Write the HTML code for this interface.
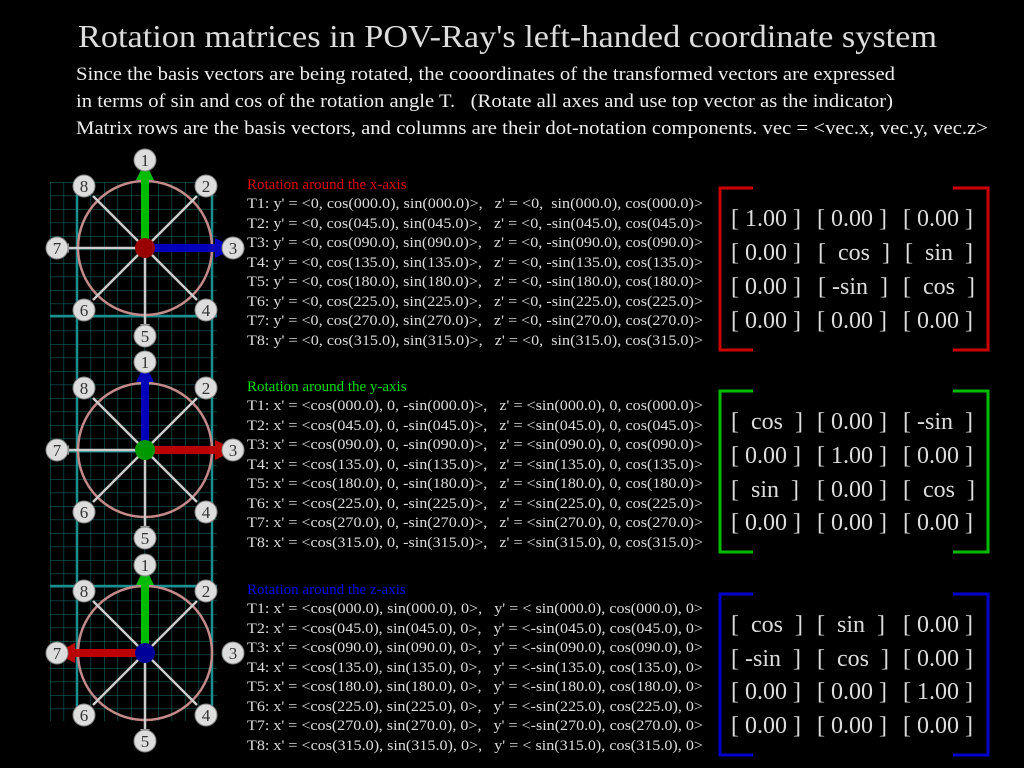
<!DOCTYPE html>
<html><head><meta charset="utf-8"><style>
html,body{margin:0;padding:0;background:#000;}
svg{display:block;font-family:"Liberation Serif",serif;}
svg text{white-space:pre;}
</style></head><body>
<svg width="1024" height="768" viewBox="0 0 1024 768" xmlns="http://www.w3.org/2000/svg">
<defs>
<pattern id="g" x="50" y="182" width="13.5" height="13.5" patternUnits="userSpaceOnUse">
<path d="M0 0H13.5M0 0V13.5" stroke="#0d5c5c" stroke-width="1.3" fill="none"/>
</pattern>
<g id="wheel">
<circle cx="0" cy="0" r="67" fill="none" stroke="#c48a8a" stroke-width="2.5"/>
<g stroke="#ccc" stroke-width="2.5">
<line x1="0" y1="0" x2="0" y2="76"/><line x1="0" y1="0" x2="-52" y2="52"/><line x1="0" y1="0" x2="-52" y2="-52"/>
<line x1="0" y1="0" x2="52" y2="52"/><line x1="0" y1="0" x2="52" y2="-52"/><line x1="0" y1="0" x2="-76" y2="0"/>
</g>
<g fill="#999">
<path d="M-5 76L5 76L0 83z"/><path d="M-76 -5L-76 5L-83 0z"/>
<path d="M-57 -52L-52 -57L-59 -59z"/><path d="M57 -52L52 -57L59 -59z"/>
<path d="M-57 52L-52 57L-59 59z"/><path d="M57 52L52 57L59 59z"/>
</g>
</g>
<g id="labels">
<g fill="#ddd" stroke="#888" stroke-width="1">
<circle cx="0" cy="-88" r="11"/><circle cx="61" cy="-62" r="11"/><circle cx="88" cy="0" r="11"/><circle cx="61" cy="62" r="11"/>
<circle cx="0" cy="88" r="11"/><circle cx="-61" cy="62" r="11"/><circle cx="-88" cy="0" r="11"/><circle cx="-61" cy="-62" r="11"/>
</g>
<g fill="#333" font-size="17" text-anchor="middle">
<text x="0" y="-82">1</text><text x="61" y="-56">2</text><text x="88" y="6">3</text><text x="61" y="68">4</text>
<text x="0" y="94">5</text><text x="-61" y="68">6</text><text x="-88" y="6">7</text><text x="-61" y="-56">8</text>
</g>
</g>
</defs>
<rect width="1024" height="768" fill="#000"/>
<text x="78" y="47" fill="#ddd" font-size="32" textLength="859" lengthAdjust="spacingAndGlyphs">Rotation matrices in POV-Ray's left-handed coordinate system</text>
<g fill="#eee" font-size="19">
<text x="76" y="80" textLength="819" lengthAdjust="spacingAndGlyphs">Since the basis vectors are being rotated, the cooordinates of the transformed vectors are expressed</text>
<text x="76" y="107" textLength="817" lengthAdjust="spacingAndGlyphs">in terms of sin and cos of the rotation angle T.   (Rotate all axes and use top vector as the indicator)</text>
<text x="76" y="134" textLength="912" lengthAdjust="spacingAndGlyphs">Matrix rows are the basis vectors, and columns are their dot-notation components. vec = &lt;vec.x, vec.y, vec.z&gt;</text>
</g>
<rect x="50" y="182" width="167" height="539" fill="url(#g)"/>
<g stroke="#1a8f8f" stroke-width="2.5">
<line x1="77" y1="182" x2="77" y2="721"/><line x1="212" y1="182" x2="212" y2="721"/>
<line x1="50" y1="316" x2="217" y2="316"/><line x1="50" y1="451" x2="217" y2="451"/><line x1="50" y1="586" x2="217" y2="586"/>
</g>

<use href="#wheel" x="145" y="248"/>
<rect x="141" y="178" width="8" height="70" fill="#0b0"/><path d="M136 180L154 180L145 162z" fill="#0b0"/>
<rect x="145" y="244" width="72" height="8" fill="#00b"/><path d="M215 238L215 258L235 248z" fill="#00b"/>
<circle cx="145" cy="248" r="10" fill="#900"/>
<use href="#labels" x="145" y="248"/>

<use href="#wheel" x="145" y="450"/>
<rect x="141" y="380" width="8" height="70" fill="#00b"/><path d="M136 382L154 382L145 364z" fill="#00b"/>
<rect x="145" y="446" width="72" height="8" fill="#b00"/><path d="M215 440L215 460L235 450z" fill="#b00"/>
<circle cx="145" cy="450" r="10" fill="#090"/>
<use href="#labels" x="145" y="450"/>

<use href="#wheel" x="145" y="653"/>
<rect x="141" y="583" width="8" height="70" fill="#0b0"/><path d="M136 585L154 585L145 567z" fill="#0b0"/>
<rect x="73" y="649" width="72" height="8" fill="#b00"/><path d="M75 643L75 663L55 653z" fill="#b00"/>
<circle cx="145" cy="653" r="10" fill="#009"/>
<use href="#labels" x="145" y="653"/>

<g font-size="14.5" fill="#ddd">
<text x="247" y="189" fill="#d00" font-size="15">Rotation around the x-axis</text>
<text x="247" y="208" textLength="456" lengthAdjust="spacingAndGlyphs">T1: y' = &lt;0, cos(000.0), sin(000.0)&gt;,   z' = &lt;0,  sin(000.0), cos(000.0)&gt;</text>
<text x="247" y="228" textLength="456" lengthAdjust="spacingAndGlyphs">T2: y' = &lt;0, cos(045.0), sin(045.0)&gt;,   z' = &lt;0, -sin(045.0), cos(045.0)&gt;</text>
<text x="247" y="247" textLength="456" lengthAdjust="spacingAndGlyphs">T3: y' = &lt;0, cos(090.0), sin(090.0)&gt;,   z' = &lt;0, -sin(090.0), cos(090.0)&gt;</text>
<text x="247" y="267" textLength="456" lengthAdjust="spacingAndGlyphs">T4: y' = &lt;0, cos(135.0), sin(135.0)&gt;,   z' = &lt;0, -sin(135.0), cos(135.0)&gt;</text>
<text x="247" y="286" textLength="456" lengthAdjust="spacingAndGlyphs">T5: y' = &lt;0, cos(180.0), sin(180.0)&gt;,   z' = &lt;0, -sin(180.0), cos(180.0)&gt;</text>
<text x="247" y="306" textLength="456" lengthAdjust="spacingAndGlyphs">T6: y' = &lt;0, cos(225.0), sin(225.0)&gt;,   z' = &lt;0, -sin(225.0), cos(225.0)&gt;</text>
<text x="247" y="325" textLength="456" lengthAdjust="spacingAndGlyphs">T7: y' = &lt;0, cos(270.0), sin(270.0)&gt;,   z' = &lt;0, -sin(270.0), cos(270.0)&gt;</text>
<text x="247" y="345" textLength="456" lengthAdjust="spacingAndGlyphs">T8: y' = &lt;0, cos(315.0), sin(315.0)&gt;,   z' = &lt;0,  sin(315.0), cos(315.0)&gt;</text>

<text x="247" y="391" fill="#0d0" font-size="15">Rotation around the y-axis</text>
<text x="247" y="410" textLength="456" lengthAdjust="spacingAndGlyphs">T1: x' = &lt;cos(000.0), 0, -sin(000.0)&gt;,   z' = &lt;sin(000.0), 0, cos(000.0)&gt;</text>
<text x="247" y="430" textLength="456" lengthAdjust="spacingAndGlyphs">T2: x' = &lt;cos(045.0), 0, -sin(045.0)&gt;,   z' = &lt;sin(045.0), 0, cos(045.0)&gt;</text>
<text x="247" y="449" textLength="456" lengthAdjust="spacingAndGlyphs">T3: x' = &lt;cos(090.0), 0, -sin(090.0)&gt;,   z' = &lt;sin(090.0), 0, cos(090.0)&gt;</text>
<text x="247" y="469" textLength="456" lengthAdjust="spacingAndGlyphs">T4: x' = &lt;cos(135.0), 0, -sin(135.0)&gt;,   z' = &lt;sin(135.0), 0, cos(135.0)&gt;</text>
<text x="247" y="488" textLength="456" lengthAdjust="spacingAndGlyphs">T5: x' = &lt;cos(180.0), 0, -sin(180.0)&gt;,   z' = &lt;sin(180.0), 0, cos(180.0)&gt;</text>
<text x="247" y="508" textLength="456" lengthAdjust="spacingAndGlyphs">T6: x' = &lt;cos(225.0), 0, -sin(225.0)&gt;,   z' = &lt;sin(225.0), 0, cos(225.0)&gt;</text>
<text x="247" y="527" textLength="456" lengthAdjust="spacingAndGlyphs">T7: x' = &lt;cos(270.0), 0, -sin(270.0)&gt;,   z' = &lt;sin(270.0), 0, cos(270.0)&gt;</text>
<text x="247" y="547" textLength="456" lengthAdjust="spacingAndGlyphs">T8: x' = &lt;cos(315.0), 0, -sin(315.0)&gt;,   z' = &lt;sin(315.0), 0, cos(315.0)&gt;</text>

<text x="247" y="594" fill="#00e" font-size="15">Rotation around the z-axis</text>
<text x="247" y="613" textLength="456" lengthAdjust="spacingAndGlyphs">T1: x' = &lt;cos(000.0), sin(000.0), 0&gt;,   y' = &lt; sin(000.0), cos(000.0), 0&gt;</text>
<text x="247" y="633" textLength="456" lengthAdjust="spacingAndGlyphs">T2: x' = &lt;cos(045.0), sin(045.0), 0&gt;,   y' = &lt;-sin(045.0), cos(045.0), 0&gt;</text>
<text x="247" y="652" textLength="456" lengthAdjust="spacingAndGlyphs">T3: x' = &lt;cos(090.0), sin(090.0), 0&gt;,   y' = &lt;-sin(090.0), cos(090.0), 0&gt;</text>
<text x="247" y="672" textLength="456" lengthAdjust="spacingAndGlyphs">T4: x' = &lt;cos(135.0), sin(135.0), 0&gt;,   y' = &lt;-sin(135.0), cos(135.0), 0&gt;</text>
<text x="247" y="691" textLength="456" lengthAdjust="spacingAndGlyphs">T5: x' = &lt;cos(180.0), sin(180.0), 0&gt;,   y' = &lt;-sin(180.0), cos(180.0), 0&gt;</text>
<text x="247" y="711" textLength="456" lengthAdjust="spacingAndGlyphs">T6: x' = &lt;cos(225.0), sin(225.0), 0&gt;,   y' = &lt;-sin(225.0), cos(225.0), 0&gt;</text>
<text x="247" y="730" textLength="456" lengthAdjust="spacingAndGlyphs">T7: x' = &lt;cos(270.0), sin(270.0), 0&gt;,   y' = &lt;-sin(270.0), cos(270.0), 0&gt;</text>
<text x="247" y="750" textLength="456" lengthAdjust="spacingAndGlyphs">T8: x' = &lt;cos(315.0), sin(315.0), 0&gt;,   y' = &lt; sin(315.0), cos(315.0), 0&gt;</text>
</g>

<g fill="none" stroke-width="3">
<path d="M753 188H720V350H753M953 188H988V350H953" stroke="#c00"/>
<path d="M753 391H720V552H753M953 391H988V552H953" stroke="#0b0"/>
<path d="M753 594H720V755H753M953 594H988V755H953" stroke="#00c"/>
</g>
<g fill="#ddd" font-size="24">
<text x="731" y="226">[ 1.00 ]</text><text x="817" y="226">[ 0.00 ]</text><text x="903" y="226">[ 0.00 ]</text>
<text x="731" y="260">[ 0.00 ]</text><text x="818" y="260">[  cos  ]</text><text x="905" y="260">[  sin  ]</text>
<text x="731" y="294">[ 0.00 ]</text><text x="818" y="294">[ -sin  ]</text><text x="903" y="294">[  cos  ]</text>
<text x="731" y="328">[ 0.00 ]</text><text x="817" y="328">[ 0.00 ]</text><text x="903" y="328">[ 0.00 ]</text>

<text x="731" y="429">[  cos  ]</text><text x="817" y="429">[ 0.00 ]</text><text x="903" y="429">[ -sin  ]</text>
<text x="731" y="463">[ 0.00 ]</text><text x="817" y="463">[ 1.00 ]</text><text x="903" y="463">[ 0.00 ]</text>
<text x="731" y="497">[  sin  ]</text><text x="817" y="497">[ 0.00 ]</text><text x="903" y="497">[  cos  ]</text>
<text x="731" y="530">[ 0.00 ]</text><text x="817" y="530">[ 0.00 ]</text><text x="903" y="530">[ 0.00 ]</text>

<text x="731" y="632">[  cos  ]</text><text x="817" y="632">[  sin  ]</text><text x="903" y="632">[ 0.00 ]</text>
<text x="731" y="666">[ -sin  ]</text><text x="817" y="666">[  cos  ]</text><text x="903" y="666">[ 0.00 ]</text>
<text x="731" y="699">[ 0.00 ]</text><text x="817" y="699">[ 0.00 ]</text><text x="903" y="699">[ 1.00 ]</text>
<text x="731" y="733">[ 0.00 ]</text><text x="817" y="733">[ 0.00 ]</text><text x="903" y="733">[ 0.00 ]</text>
</g>
</svg>
</body></html>
